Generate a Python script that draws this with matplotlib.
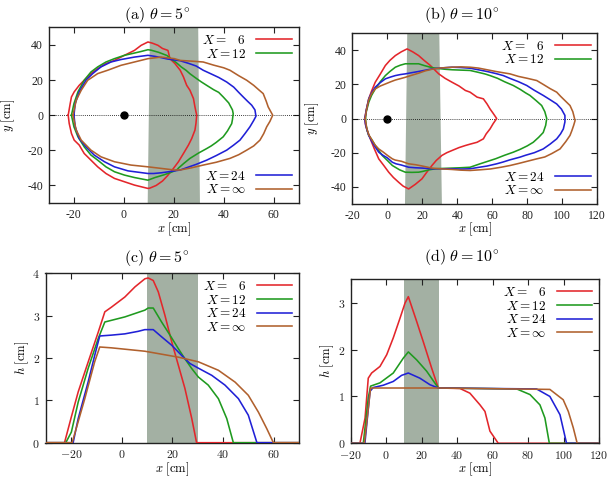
import matplotlib
matplotlib.use("Agg")
import matplotlib.pyplot as plt
from matplotlib.ticker import FuncFormatter

plt.rcParams['mathtext.fontset'] = 'cm'
plt.rcParams['font.family'] = ['DejaVu Serif']

# ---------------- data ----------------
labels = [r'$X =\ \enspace 6$', r'$X = 12$', r'$X = 24$', r'$X = \infty$']
colors = ['#e3262b', '#1f9a1f', '#2020d6', '#b0602d']

titles = [r'$\mathrm{(a)}\ \theta = 5^{\circ}$', r'$\mathrm{(b)}\ \theta = 10^{\circ}$',
          r'$\mathrm{(c)}\ \theta = 5^{\circ}$', r'$\mathrm{(d)}\ \theta = 10^{\circ}$']

# obstacle band (x extents at bottom / top of panel)
band_a_bottom = [9.6, 30.5]
band_a_top = [10.5, 29.8]
band_b_bottom = [10.1, 31.2]
band_b_top = [11.4, 29.7]
band_cd = [10, 30]

# --- panel (a): contours theta=5 ---
a6_x = [-22.2, -21.4, -20.9, -19.8, -17.8, -15.8, -13.1, -10.4, -7.1, -3.7, 0.3, 4.3, 7.0, 9.7, 11.5, 13.7, 15.5, 17.7, 18.5, 20.5, 22.6, 23.9, 25.2, 26.5, 27.9, 28.5, 29.2,
        28.9, 28.5, 27.2, 25.9, 23.9, 21.9, 19.9, 17.5, 15.5, 13.0, 10.5, 9.7, 4.3, 0.3, -3.7, -7.1, -10.4, -13.1, -15.8, -17.8, -19.8, -20.9, -21.8, -22.2]
a6_y = [0, 6.6, 10.4, 13.3, 17.0, 19.9, 23.7, 26.5, 29.4, 31.2, 34.1, 36.9, 39.8, 41.7, 41.0, 39.8, 38.0, 36.9, 32.2, 29.4, 25.6, 21.8, 17.0, 14.2, 9.5, 4.7, 0,
        -4.7, -8.5, -13.3, -17.0, -21.8, -26.5, -30.3, -34.5, -37.5, -40.0, -41.5, -41.7, -39.8, -37.9, -36.0, -33.2, -29.4, -25.6, -21.8, -17.0, -14.2, -10.4, -4.7, 0]
a12_x = [-20.9, -19.9, -18.3, -15.8, -13.1, -10.4, -7.1, -3.7, 0.3, 4.3, 7.0, 9.7, 11.0, 14.0, 17.3, 19.0, 21.0, 23.0, 25.0, 26.5, 29.0, 31.0, 33.2, 36.0, 38.0, 39.8, 42.0, 43.5, 43.8,
         43.5, 43.2, 41.5, 39.8, 37.0, 35.0, 33.2, 30.0, 26.5, 24.0, 22.0, 21.2, 19.0, 16.0, 12.5, 9.7, 4.3, 0.3, -3.7, -7.1, -10.4, -13.1, -15.8, -18.3, -19.9, -20.9]
a12_y = [0, 6.6, 13.3, 19.9, 24.6, 27.5, 30.3, 32.2, 34.1, 35.4, 36.3, 37.3, 37.0, 35.8, 34.0, 32.0, 30.0, 27.5, 25.5, 23.6, 21.0, 19.0, 17.0, 14.5, 13.0, 10.4, 7.0, 3.0, 0.9,
         -2.5, -4.8, -9.0, -12.3, -15.5, -17.5, -19.0, -21.5, -24.6, -27.5, -30.0, -31.2, -32.5, -34.0, -35.5, -37.0, -35.5, -34.1, -32.2, -29.4, -25.6, -22.7, -18.0, -12.3, -6.6, 0]
a24_x = [-19.9, -19.4, -17.8, -15.1, -12.4, -9.1, -5.1, -1.1, 4.3, 9.7, 12.5, 15.0, 17.5, 20.0, 22.6, 26.0, 29.0, 31.8, 35.0, 38.0, 41.2, 44.0, 46.0, 47.8, 49.5, 51.2, 52.5, 52.9,
         52.0, 50.5, 48.5, 46.5, 44.0, 41.2, 37.0, 33.2, 29.0, 25.0, 22.6, 19.0, 15.0, 12.0, 9.7, 1.7, -3.7, -7.7, -11.8, -15.1, -17.8, -19.4, -19.9]
a24_y = [0, 6.6, 13.3, 19.9, 23.7, 27.5, 30.3, 31.7, 33.1, 34.1, 33.5, 32.8, 32.0, 31.5, 31.0, 29.5, 28.0, 25.6, 23.5, 21.5, 18.9, 16.0, 13.0, 10.4, 8.0, 5.7, 3.0, -0.6,
         -3.0, -6.6, -10.5, -14.2, -17.0, -19.9, -23.0, -25.6, -28.0, -30.0, -31.2, -32.0, -32.8, -33.2, -33.2, -31.7, -29.4, -26.5, -22.7, -18.0, -13.3, -6.6, 0]
ainf_x = [-20.3, -19.0, -17.0, -14.4, -10.4, -6.4, -1.1, 4.3, 9.7, 15.0, 20.3, 22.6, 27.0, 31.8, 36.0, 40.0, 42.5, 46.0, 49.2, 52.0, 54.0, 55.8, 57.0, 57.8, 59.6,
          58.5, 57.2, 56.0, 54.5, 52.0, 49.2, 46.0, 42.5, 37.0, 31.8, 27.0, 22.6, 20.3, 15.0, 9.7, 2.9, -3.7, -9.1, -13.1, -17.0, -19.0, -20.3]
ainf_y = [0, 8.5, 14.2, 19.9, 23.7, 25.6, 28.4, 30.3, 32.2, 33.1, 32.2, 31.2, 30.8, 30.3, 28.5, 27.0, 25.6, 22.5, 19.9, 17.0, 14.5, 12.3, 8.0, 4.7, 0,
          -3.5, -6.6, -10.5, -14.2, -17.5, -19.9, -22.5, -24.6, -26.8, -28.4, -30.0, -31.2, -31.2, -30.3, -29.4, -28.4, -26.5, -23.7, -19.9, -14.2, -8.5, 0]

# --- panel (b): contours theta=10 ---
b6_x = [-12.9, -12.0, -10.6, -9.0, -6.9, -4.0, -1.1, 1.5, 4.6, 8.0, 11.3, 14.5, 17.9, 21.0, 24.6, 27.0, 29.4, 33.0, 37.0, 41.0, 44.6, 47.3, 51.3, 54.9, 57.0, 58.7, 60.5, 62.5,
        60.5, 58.7, 56.5, 54.9, 51.3, 47.3, 44.6, 41.0, 37.0, 34.0, 31.2, 28.0, 25.5, 22.5, 19.8, 16.0, 12.2, 9.0, 6.5, 3.5, 0.8, -2.0, -4.9, -7.5, -9.7, -11.5, -12.4, -12.9]
b6_y = [0, 5.0, 11.5, 16.0, 21.2, 26.0, 31.0, 34.0, 36.8, 39.0, 40.7, 39.0, 36.8, 34.0, 31.0, 28.5, 26.1, 23.5, 21.2, 19.0, 16.4, 15.4, 12.5, 11.5, 8.5, 5.6, 3.0, 0,
        -3.0, -6.1, -9.0, -11.9, -13.9, -15.0, -15.8, -17.0, -18.7, -20.0, -21.6, -24.5, -27.5, -31.5, -35.3, -38.5, -41.2, -39.5, -37.3, -34.5, -31.4, -27.5, -23.6, -17.5, -11.9, -7.0, -3.9, 0]
b12_x = [-12.5, -12.0, -10.6, -9.0, -6.9, -4.0, -1.1, 1.5, 4.6, 7.5, 10.3, 14.0, 17.9, 21.0, 24.6, 27.0, 29.4, 33.0, 37.0, 42.0, 47.3, 52.0, 56.0, 58.7, 63.0, 67.0, 72.0, 76.0, 79.0,
         81.5, 85.0, 88.2, 90.0, 91.1, 90.5, 89.1, 86.5, 83.4, 80.0, 76.0, 72.0, 67.0, 62.0, 58.7, 53.0, 47.3, 42.0, 37.0, 32.0, 27.4, 24.0, 20.0, 17.9, 14.0, 10.3, 7.0,
         2.9, 0.0, -2.9, -5.0, -6.9, -8.8, -10.6, -11.5, -12.1, -12.5]
b12_y = [0, 4.0, 9.5, 13.5, 17.3, 21.5, 25.1, 27.5, 30.0, 31.2, 32.0, 32.0, 32.0, 31.0, 30.0, 29.5, 29.2, 28.8, 28.5, 28.3, 28.1, 27.0, 26.0, 25.1, 23.5, 21.5, 19.3, 17.0, 15.0,
         13.5, 10.5, 7.6, 4.0, 0, -4.0, -8.2, -11.0, -13.9, -16.0, -18.0, -19.7, -21.5, -23.5, -24.6, -26.5, -28.5, -28.8, -29.0, -29.2, -29.4, -30.0, -31.0, -31.4, -31.5, -31.4, -30.0,
         -27.5, -24.5, -21.6, -18.5, -15.8, -12.5, -9.9, -7.0, -3.9, 0]
b24_x = [-12.8, -12.0, -10.6, -9.0, -6.9, -4.0, -1.1, 2.0, 4.6, 7.5, 10.3, 14.0, 17.9, 21.5, 25.5, 30.0, 37.0, 42.0, 47.3, 52.0, 57.0, 62.0, 66.3, 70.0, 75.0, 79.7, 84.0, 89.1,
         93.0, 96.8, 99.5, 101.5, 101.5, 100.6, 99.0, 96.8, 93.0, 89.1, 84.0, 79.0, 75.8, 70.0, 66.0, 62.5, 57.0, 52.0, 47.3, 42.0, 37.0, 30.0, 25.5, 20.0, 16.0, 12.2, 8.0, 5.0,
         2.9, 0.0, -2.5, -4.9, -7.0, -8.8, -10.6, -11.8, -12.5, -12.8]
b24_y = [0, 5.0, 11.5, 15.0, 18.3, 21.0, 23.2, 24.3, 25.1, 25.7, 26.1, 26.8, 27.5, 28.2, 29.0, 29.5, 30.0, 29.8, 29.4, 28.5, 27.5, 26.3, 25.1, 23.5, 21.5, 19.3, 16.5, 13.5,
         11.0, 8.5, 5.5, 1.8, -2.0, -6.1, -9.0, -11.9, -15.0, -17.8, -20.0, -21.5, -22.6, -24.2, -25.5, -26.5, -27.8, -28.6, -29.4, -29.6, -29.4, -29.4, -29.4, -29.0, -28.8, -28.5, -27.2, -26.5,
         -25.6, -23.0, -21.5, -19.7, -16.5, -13.5, -9.9, -6.0, -3.0, 0]
binf_x = [-12.6, -12.0, -10.6, -9.0, -6.9, -4.0, -1.1, 2.0, 4.6, 7.5, 10.3, 14.0, 17.9, 21.5, 25.5, 30.0, 37.0, 42.0, 47.3, 52.0, 57.0, 62.0, 66.0, 70.1, 75.0, 80.0, 85.4, 89.0,
          93.0, 96.8, 99.0, 101.5, 104.4, 106.0, 107.3, 106.5, 105.5, 104.4, 102.0, 98.7, 94.0, 90.0, 85.4, 80.0, 75.0, 70.1, 65.0, 59.0, 53.0, 47.3, 42.0, 37.0, 30.0, 25.5, 20.0,
          16.0, 12.2, 8.0, 4.5, 2.9, 0.0, -2.5, -4.9, -7.0, -8.8, -10.6, -11.8, -12.6]
binf_y = [0, 4.5, 11.0, 14.5, 17.3, 19.0, 20.2, 21.5, 22.5, 23.3, 24.1, 25.3, 26.5, 27.8, 28.8, 29.5, 30.0, 30.2, 30.0, 29.5, 28.5, 27.5, 26.8, 26.1, 24.6, 23.5, 22.2, 20.0,
          17.5, 15.4, 13.0, 10.5, 7.6, 4.0, -1.2, -4.0, -7.0, -9.9, -13.5, -17.8, -20.5, -22.5, -23.6, -25.0, -26.3, -27.5, -28.5, -29.5, -30.0, -30.4, -30.2, -29.8, -29.4, -29.0, -27.8,
          -27.0, -26.5, -25.0, -24.3, -23.6, -21.5, -19.5, -17.8, -15.5, -12.5, -9.5, -5.5, 0]

# --- panel (c): height profiles theta=5 ---
c6_x = [-30, -22.5, -19.8, -17.1, -13.2, -9.2, -6.6, -4.0, 1.3, 5.3, 9.2, 10.5, 12.5, 14.5, 17.1, 19.8, 22.4, 25.0, 27.7, 29.6, 70]
c6_h = [0, 0, 0.61, 1.2, 1.9, 2.61, 3.09, 3.2, 3.44, 3.68, 3.87, 3.89, 3.83, 3.56, 3.01, 2.38, 1.83, 1.28, 0.57, 0, 0]
c12_x = [-30, -22.0, -19.8, -17.1, -13.2, -9.2, -6.6, 1.3, 9.2, 10.5, 12.5, 15.8, 19.1, 22.4, 25.0, 27.7, 30.3, 34.2, 38.2, 41.5, 44.1, 70]
c12_h = [0, 0, 0.25, 0.96, 1.75, 2.46, 2.85, 2.97, 3.13, 3.18, 3.18, 2.85, 2.54, 2.22, 1.98, 1.75, 1.55, 1.36, 1.04, 0.57, 0, 0]
c24_x = [-30, -19.1, -17.1, -13.2, -10.6, -8.6, -4.0, 1.3, 6.6, 9.2, 12.5, 15.8, 19.8, 23.7, 27.0, 30.3, 35.6, 40.8, 46.1, 50.0, 53.4, 70]
c24_h = [0, 0, 0.57, 1.43, 2.06, 2.52, 2.54, 2.57, 2.63, 2.67, 2.67, 2.5, 2.3, 2.06, 1.87, 1.76, 1.59, 1.36, 1.04, 0.65, 0, 0]
cinf_x = [-30, -19.5, -14.5, -10.6, -8.6, -4.0, 9.2, 22.4, 30.3, 38.2, 44.8, 50.0, 54.0, 57.3, 59.9, 70]
cinf_h = [0, 0, 1.04, 1.91, 2.26, 2.24, 2.16, 2.02, 1.91, 1.71, 1.43, 1.12, 0.72, 0.33, 0, 0]

# --- panel (d): height profiles theta=10 ---
d6_x = [-20, -14.8, -11.9, -10.1, -8.2, -3.5, 0.3, 4.0, 7.8, 10.6, 12.5, 17.2, 20.9, 25.6, 29.4, 41.6, 47.2, 52.9, 55.7, 58.5, 63.2, 120]
d6_h = [0, 0, 0.54, 1.39, 1.5, 1.64, 1.89, 2.25, 2.67, 2.99, 3.13, 2.6, 2.17, 1.61, 1.18, 1.17, 1.07, 0.82, 0.68, 0.26, 0, 0]
d12_x = [-20, -12.9, -10.1, -8.8, -3.5, 4.0, 9.7, 12.5, 17.2, 22.8, 29.4, 73.6, 81.1, 86.7, 89.5, 92.0, 120]
d12_h = [0, 0, 0.97, 1.22, 1.29, 1.5, 1.82, 1.95, 1.78, 1.54, 1.18, 1.16, 1.04, 0.82, 0.54, 0, 0]
d24_x = [-20, -12.0, -9.1, -7.3, -1.6, 4.0, 8.7, 12.5, 19.0, 24.7, 29.4, 84.8, 92.3, 98.0, 101.7, 120]
d24_h = [0, 0, 1.11, 1.19, 1.24, 1.32, 1.45, 1.5, 1.39, 1.25, 1.18, 1.16, 1.0, 0.61, 0, 0]
dinf_x = [-20, -12.3, -8.8, 29.4, 92.3, 99.8, 102.7, 105.5, 107.7, 120]
dinf_h = [0, 0, 1.18, 1.18, 1.15, 0.93, 0.68, 0.33, 0, 0]

# ---------------- figure ----------------
W, H = 611, 480
fig = plt.figure(figsize=(W / 100, H / 100), dpi=100)


def axes_px(l, t, r, b):
    return fig.add_axes([l / W, 1 - b / H, (r - l) / W, (b - t) / H])


axA = axes_px(48.7, 27.4, 298.7, 203.0)
axB = axes_px(352.3, 33.0, 597.3, 204.0)
axC = axes_px(45.5, 273.3, 299.0, 442.7)
axD = axes_px(350.7, 279.3, 599.0, 443.3)

shade = '#a3b0a3'
lw = 1.15


def style(ax, top):
    ax.tick_params(direction='in', top=True, right=True, length=4, width=0.8,
                   labelsize=8.5, colors='#222222', pad=4)
    for s in ax.spines.values():
        s.set_linewidth(1.0)
        s.set_color('#222222')
    if top:
        fmt = FuncFormatter(lambda v, p: '%d' % v)
        ax.xaxis.set_major_formatter(fmt)
        ax.yaxis.set_major_formatter(fmt)
        for lab in ax.get_xticklabels() + ax.get_yticklabels():
            lab.set_fontfamily('Liberation Serif')
    else:
        fmt = FuncFormatter(lambda v, p: r'$%d$' % v)
        ax.xaxis.set_major_formatter(fmt)
        ax.yaxis.set_major_formatter(fmt)


# Panel (a)
ylo, yhi = -50, 50
axA.fill([band_a_bottom[0], band_a_top[0], band_a_top[1], band_a_bottom[1]],
         [ylo, yhi, yhi, ylo], color=shade, lw=0, zorder=1)
axA.axhline(0, color='black', lw=0.6, ls=(0, (1, 1.5)), zorder=2)
axA.plot([0], [0], 'o', color='black', ms=5, zorder=5)
linesA = []
for xs, ys, c in zip([a6_x, a12_x, a24_x, ainf_x], [a6_y, a12_y, a24_y, ainf_y], colors):
    l, = axA.plot(xs, ys, color=c, lw=lw, zorder=3)
    linesA.append(l)
axA.set_xlim(-30, 70)
axA.set_ylim(ylo, yhi)
axA.set_xticks([-20, 0, 20, 40, 60])
axA.set_yticks([-40, -20, 0, 20, 40])

# Panel (b)
axB.fill([band_b_bottom[0], band_b_top[0], band_b_top[1], band_b_bottom[1]],
         [ylo, yhi, yhi, ylo], color=shade, lw=0, zorder=1)
axB.axhline(0, color='black', lw=0.6, ls=(0, (1, 1.5)), zorder=2)
axB.plot([0], [0], 'o', color='black', ms=5, zorder=5)
linesB = []
for xs, ys, c in zip([b6_x, b12_x, b24_x, binf_x], [b6_y, b12_y, b24_y, binf_y], colors):
    l, = axB.plot(xs, ys, color=c, lw=lw, zorder=3)
    linesB.append(l)
axB.set_xlim(-20, 120)
axB.set_ylim(ylo, yhi)
axB.set_xticks([-20, 0, 20, 40, 60, 80, 100, 120])
axB.set_yticks([-40, -20, 0, 20, 40])

# Panel (c)
axC.axvspan(band_cd[0], band_cd[1], color=shade, lw=0, zorder=1)
linesC = []
for xs, hs, c in zip([c6_x, c12_x, c24_x, cinf_x], [c6_h, c12_h, c24_h, cinf_h], colors):
    l, = axC.plot(xs, hs, color=c, lw=lw, zorder=3)
    linesC.append(l)
axC.set_xlim(-30, 70)
axC.set_ylim(0, 4)
axC.set_xticks([-20, 0, 20, 40, 60])
axC.set_yticks([0, 1, 2, 3, 4])

# Panel (d)
axD.axvspan(band_cd[0], band_cd[1], color=shade, lw=0, zorder=1)
linesD = []
for xs, hs, c in zip([d6_x, d12_x, d24_x, dinf_x], [d6_h, d12_h, d24_h, dinf_h], colors):
    l, = axD.plot(xs, hs, color=c, lw=lw, zorder=3)
    linesD.append(l)
axD.set_xlim(-20, 120)
axD.set_ylim(0, 3.5)
axD.set_xticks([-20, 0, 20, 40, 60, 80, 100, 120])
axD.set_yticks([0, 1, 2, 3])

for ax, top in [(axA, True), (axB, True), (axC, False), (axD, False)]:
    style(ax, top)

# legends
leg_kw = dict(frameon=False, markerfirst=False, fontsize=9.5, handlelength=2.7,
              handletextpad=0.8, labelspacing=0.05, borderaxespad=0.3, borderpad=0.2)
for ax, lines in [(axA, linesA), (axB, linesB)]:
    l1 = ax.legend(lines[:2], labels[:2], loc='upper right', **leg_kw)
    ax.add_artist(l1)
    ax.legend(lines[2:], labels[2:], loc='lower right', **leg_kw)
for ax, lines in [(axC, linesC), (axD, linesD)]:
    ax.legend(lines, labels, loc='upper right', **leg_kw)

# axis labels (positions are label centres)
lab_fs = 9
xlab = r'$x\ \mathrm{[cm]}$'
for ax, yl in [(axA, r'$y\ \mathrm{[cm]}$'), (axB, r'$y\ \mathrm{[cm]}$'),
               (axC, r'$h\ \mathrm{[cm]}$'), (axD, r'$h\ \mathrm{[cm]}$')]:
    ax.set_xlabel(xlab, fontsize=lab_fs, va='center')
    ax.set_ylabel(yl, fontsize=lab_fs, va='center')
axA.xaxis.set_label_coords(0.5, -0.152)
axB.xaxis.set_label_coords(0.5, -0.150)
axC.xaxis.set_label_coords(0.5, -0.158)
axD.xaxis.set_label_coords(0.5, -0.160)
axA.yaxis.set_label_coords(-0.160, 0.5)
axB.yaxis.set_label_coords(-0.162, 0.5)
axC.yaxis.set_label_coords(-0.092, 0.5)
axD.yaxis.set_label_coords(-0.095, 0.5)

# titles
title_pos = [(157, 15), (461.7, 15), (157, 258), (461.7, 257)]
for t, (x, y) in zip(titles, title_pos):
    fig.text(x / W, 1 - y / H, t, ha='center', va='center', fontsize=11.5)

fig.savefig('out.png', dpi=100)
